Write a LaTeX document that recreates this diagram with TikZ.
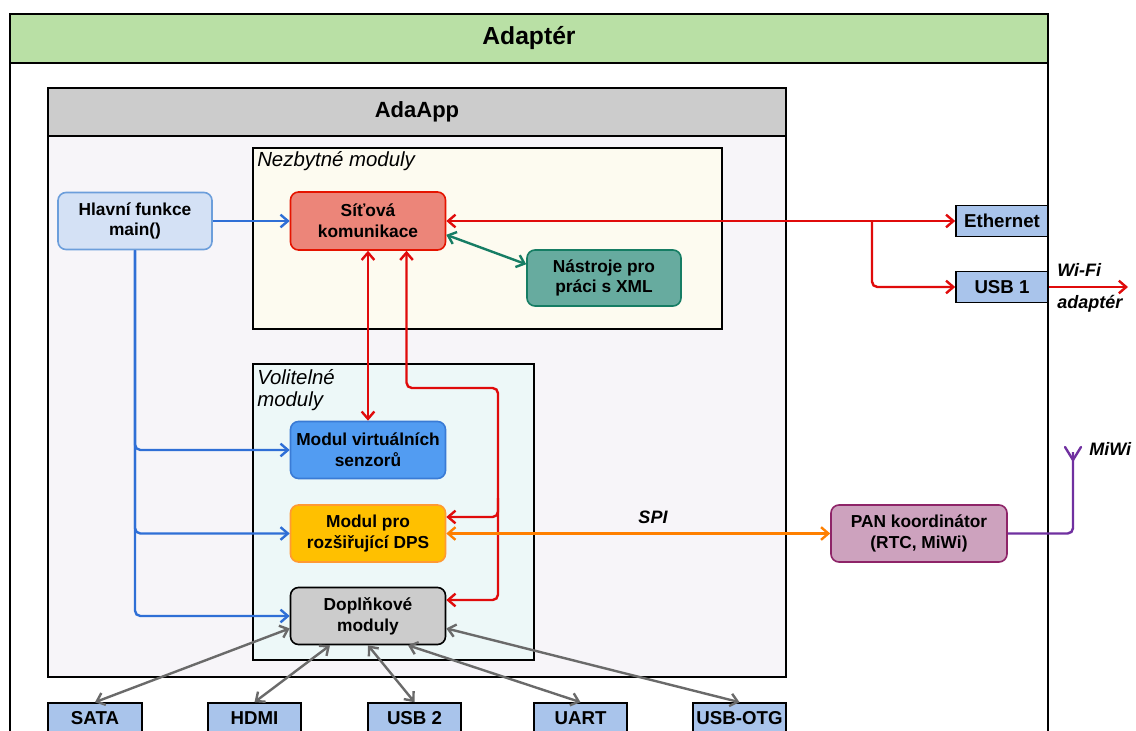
\documentclass[tikz,border=0pt]{standalone}
\usepackage{fontspec}
\setmainfont{Liberation Sans}
\usetikzlibrary{arrows.meta,calc}

\definecolor{hdrgreen}{HTML}{B9E0A5}
\definecolor{hdrgray}{HTML}{CCCCCC}
\definecolor{appbody}{HTML}{F7F5F9}
\definecolor{reqbody}{HTML}{FDFBF0}
\definecolor{optbody}{HTML}{EDF8F8}
\definecolor{mainfill}{HTML}{D4E1F5}
\definecolor{mainline}{HTML}{6C9EDB}
\definecolor{netfill}{HTML}{EC8579}
\definecolor{netline}{HTML}{E51400}
\definecolor{xmlfill}{HTML}{67AB9F}
\definecolor{xmlline}{HTML}{167D64}
\definecolor{virtfill}{HTML}{529CF2}
\definecolor{virtline}{HTML}{3A7BD5}
\definecolor{dpsfill}{HTML}{FFC000}
\definecolor{dpsline}{HTML}{FF9A33}
\definecolor{addfill}{HTML}{CCCCCC}
\definecolor{portfill}{HTML}{A9C4EB}
\definecolor{panfill}{HTML}{CDA2BE}
\definecolor{panline}{HTML}{8E2468}
\definecolor{cred}{HTML}{E00B0B}
\definecolor{cblue}{HTML}{2F6FD6}
\definecolor{cteal}{HTML}{167D64}
\definecolor{corange}{HTML}{FF8000}
\definecolor{cpurple}{HTML}{7030A0}
\definecolor{cgray}{HTML}{6A6A6A}

\newcommand\bxfont{\fontsize{13}{15.5}\selectfont\bfseries}
\newcommand\portfont{\fontsize{14}{16}\selectfont\bfseries}
\newcommand\lblfont{\fontsize{15.3}{16.5}\selectfont\itshape}
\newcommand\linkfont{\fontsize{13.5}{15}\selectfont\bfseries\itshape}

\tikzset{
  sz/.style 2 args={minimum width=#1*0.75pt, minimum height=#2*0.75pt},
  container/.style={draw=black, line width=1.5pt, inner sep=0pt},
  mod/.style={rounded corners=6pt, line width=1.2pt, align=center, inner sep=0pt, font=\bxfont, sz={155}{57}},
  port/.style={draw=black, fill=portfill, line width=1.2pt, inner sep=0pt, font=\portfont},
  conn/.style={line width=1.8pt, rounded corners=4pt,
    >={Straight Barb[length=5.5pt,width=9.5pt]}},
  lbl/.style={font=\lblfont, inner sep=0pt, align=left},
  linklbl/.style={font=\linkfont, inner sep=0pt},
}

\begin{document}
\begin{tikzpicture}[x=0.75pt,y=-0.75pt]
\useasboundingbox (0,0) rectangle (1136,731);

% outer adapter frame with its title bar
\node[container, fill=white, sz={1038}{740}] (adapter) at (529,384) {};
\node[container, fill=hdrgreen, sz={1038}{49}, font=\fontsize{18.5}{20}\selectfont\bfseries] (adaptertitle) at (529,38.5) {Adaptér};

% application frame
\node[container, fill=appbody, sz={738}{589}] (app) at (417,382.5) {};
\node[container, fill=hdrgray, sz={738}{48}, font=\fontsize{16.5}{18}\selectfont\bfseries] (apptitle) at (417,112) {AdaApp};

% module groups
\node[container, fill=reqbody, sz={469}{181}] (req) at (487.5,238.5) {};
\node[lbl, anchor=west] (reqlbl) at (257,161) {Nezbytné moduly};
\node[container, fill=optbody, sz={281}{296}] (opt) at (393.5,512) {};
\node[lbl, anchor=north west] (optlbl) at (257,369) {Volitelné\\moduly};

% modules
\node[mod, fill=mainfill, draw=mainline, sz={154}{57}] (main) at (135,221) {Hlavní funkce\\main()};
\node[mod, fill=netfill, draw=netline, sz={155}{58}] (net) at (368,221) {Síťová\\komunikace};
\node[mod, fill=xmlfill, draw=xmlline, sz={154}{56}] (xml) at (604,278) {Nástroje pro\\práci s XML};
\node[mod, fill=virtfill, draw=virtline] (virt) at (368,450) {Modul virtuálních\\senzorů};
\node[mod, fill=dpsfill, draw=dpsline] (dps) at (368,533.5) {Modul pro\\rozšiřující DPS};
\node[mod, fill=addfill, draw=black] (add) at (368,616) {Doplňkové\\moduly};
\node[mod, fill=panfill, draw=panline, sz={176}{57}] (pan) at (919,533.5) {PAN koordinátor\\(RTC, MiWi)};

% interfaces
\node[port, sz={92}{31}] (eth) at (1002,221) {Ethernet};
\node[port, sz={92}{31}] (usbone) at (1002,287) {USB 1};
\node[port, sz={94}{30}] (sata) at (95,718) {SATA};
\node[port, sz={93}{30}] (hdmi) at (254.5,718) {HDMI};
\node[port, sz={93}{30}] (usbtwo) at (414.5,718) {USB 2};
\node[port, sz={93}{30}] (uart) at (580.5,718) {UART};
\node[port, sz={93}{30}] (otg) at (739.5,718) {USB-OTG};

% free ends
\coordinate (split) at (872,221);
\coordinate (wifi) at (1128,287);
\coordinate (ant) at (1073,452);
\coordinate (bendA) at (406.5,388);
\coordinate (bendB) at (498,388);

% main function calls
\draw[conn, cblue, ->] (main.east) -- (net.west);
\draw[conn, cblue, ->] (main.south) |- (virt.west);
\draw[conn, cblue, ->] (main.south) |- (dps.west);
\draw[conn, cblue, ->] (main.south) |- (add.west);

% network links
\draw[conn, cred, <->] (net.east) -- (eth.west);
\draw[conn, cred, ->] (split) |- (usbone.west);
\draw[conn, cred, ->] (usbone.east) -- (wifi);
\draw[conn, cteal, <->] (net.-10) -- (xml.170);
\draw[conn, cred, <->] (net.south) -- (virt.north);
\draw[conn, cred, <->] ($(net.south)+(38.5,0)$) -- (bendA) -- (bendB) |- ($(dps.east)+(0,-16.5)$);
\draw[conn, cred, ->] ($(bendB)+(0,110)$) |- ($(add.east)+(0,-16)$);

% SPI and radio
\draw[conn, corange, <->] (dps.east) -- (pan.west);
\draw[conn, cpurple] (pan.east) -| (ant);
\draw[line width=1.8pt, cpurple, line cap=round, line join=round] (1065,447) -- (1073,460) -- (1081,447);

% peripheral links
\draw[conn, cgray, <->] (add.189) -- (sata.north);
\draw[conn, cgray, <->] ($(add.south)+(-38,0)$) -- (hdmi.north);
\draw[conn, cgray, <->] (add.south) -- (usbtwo.north);
\draw[conn, cgray, <->] ($(add.south)+(40,0)$) -- (uart.north);
\draw[conn, cgray, <->] (add.-9) -- (otg.north);

% link labels
\node[linklbl, anchor=west] (wifilbl) at (1057,270) {Wi-Fi};
\node[linklbl, anchor=west] (adplbl) at (1057,304) {adaptér};
\node[linklbl, anchor=west] (milbl) at (1089,449) {MiWi};
\node[linklbl] (spilbl) at (653,517) {SPI};
\end{tikzpicture}
\end{document}
